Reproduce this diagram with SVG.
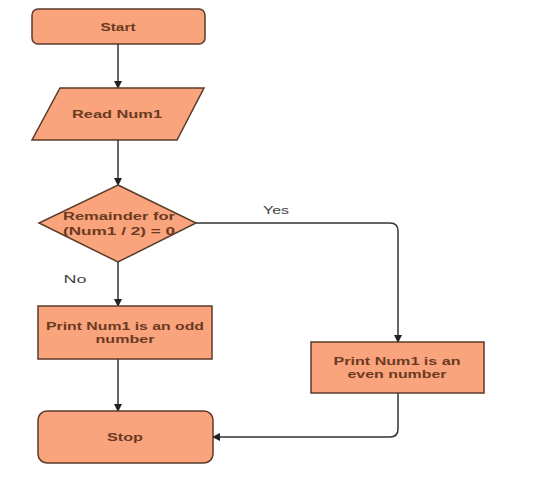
<svg xmlns="http://www.w3.org/2000/svg" width="550" height="484" viewBox="0 0 550 484">
<style>
.n{fill:#f9a47c;stroke:#5a3a2a;stroke-width:1.5}
.t{font-family:"Liberation Sans",Arial,sans-serif;font-size:11px;font-weight:bold;fill:#6b3a22;text-anchor:middle}
.l{font-family:"Liberation Sans",Arial,sans-serif;font-size:11px;fill:#444;text-anchor:middle}
.c{fill:none;stroke:#333;stroke-width:1.5;marker-end:url(#a)}
</style>
<defs>
<marker id="a" markerWidth="8" markerHeight="8" refX="7" refY="4" orient="auto" markerUnits="userSpaceOnUse">
<path d="M0,0 L8,4 L0,8 Z" fill="#222"/>
</marker>
</defs>
<rect width="550" height="484" fill="#fff"/>
<g id="connectors">
<path class="c" d="M118,44 V88"/>
<path class="c" d="M118,140 V185"/>
<path class="c" d="M118,262 V306"/>
<path class="c" d="M196,223 H390 Q398,223 398,231 V342"/>
<path class="c" d="M118,359 V411"/>
<path class="c" d="M398,393 V429 Q398,437 390,437 H213"/>
<text class="l" x="276" y="214" textLength="26" lengthAdjust="spacingAndGlyphs">Yes</text>
<text class="l" x="75" y="283" textLength="23" lengthAdjust="spacingAndGlyphs">No</text>
</g>
<g id="start">
<rect class="n" x="32" y="9" width="173" height="35" rx="6"/>
<text class="t" x="118" y="31" textLength="35" lengthAdjust="spacingAndGlyphs">Start</text>
</g>
<g id="read">
<polygon class="n" points="60,88 204,88 177,140 32,140"/>
<text class="t" x="117" y="118" textLength="90" lengthAdjust="spacingAndGlyphs">Read Num1</text>
</g>
<g id="decision">
<polygon class="n" points="118,185 196,223 118,262 39,223"/>
<text class="t" x="119" y="220" textLength="112" lengthAdjust="spacingAndGlyphs">Remainder for</text>
<text class="t" x="119" y="235" textLength="112" lengthAdjust="spacingAndGlyphs">(Num1 / 2) = 0</text>
</g>
<g id="odd">
<rect class="n" x="38" y="306" width="174" height="53"/>
<text class="t" x="125" y="330" textLength="158" lengthAdjust="spacingAndGlyphs">Print Num1 is an odd</text>
<text class="t" x="125" y="343" textLength="59" lengthAdjust="spacingAndGlyphs">number</text>
</g>
<g id="even">
<rect class="n" x="311" y="342" width="173" height="51"/>
<text class="t" x="397" y="365" textLength="127" lengthAdjust="spacingAndGlyphs">Print Num1 is an</text>
<text class="t" x="397" y="378" textLength="99" lengthAdjust="spacingAndGlyphs">even number</text>
</g>
<g id="stop">
<rect class="n" x="38" y="411" width="175" height="52" rx="9"/>
<text class="t" x="125" y="441" textLength="36" lengthAdjust="spacingAndGlyphs">Stop</text>
</g>
</svg>
